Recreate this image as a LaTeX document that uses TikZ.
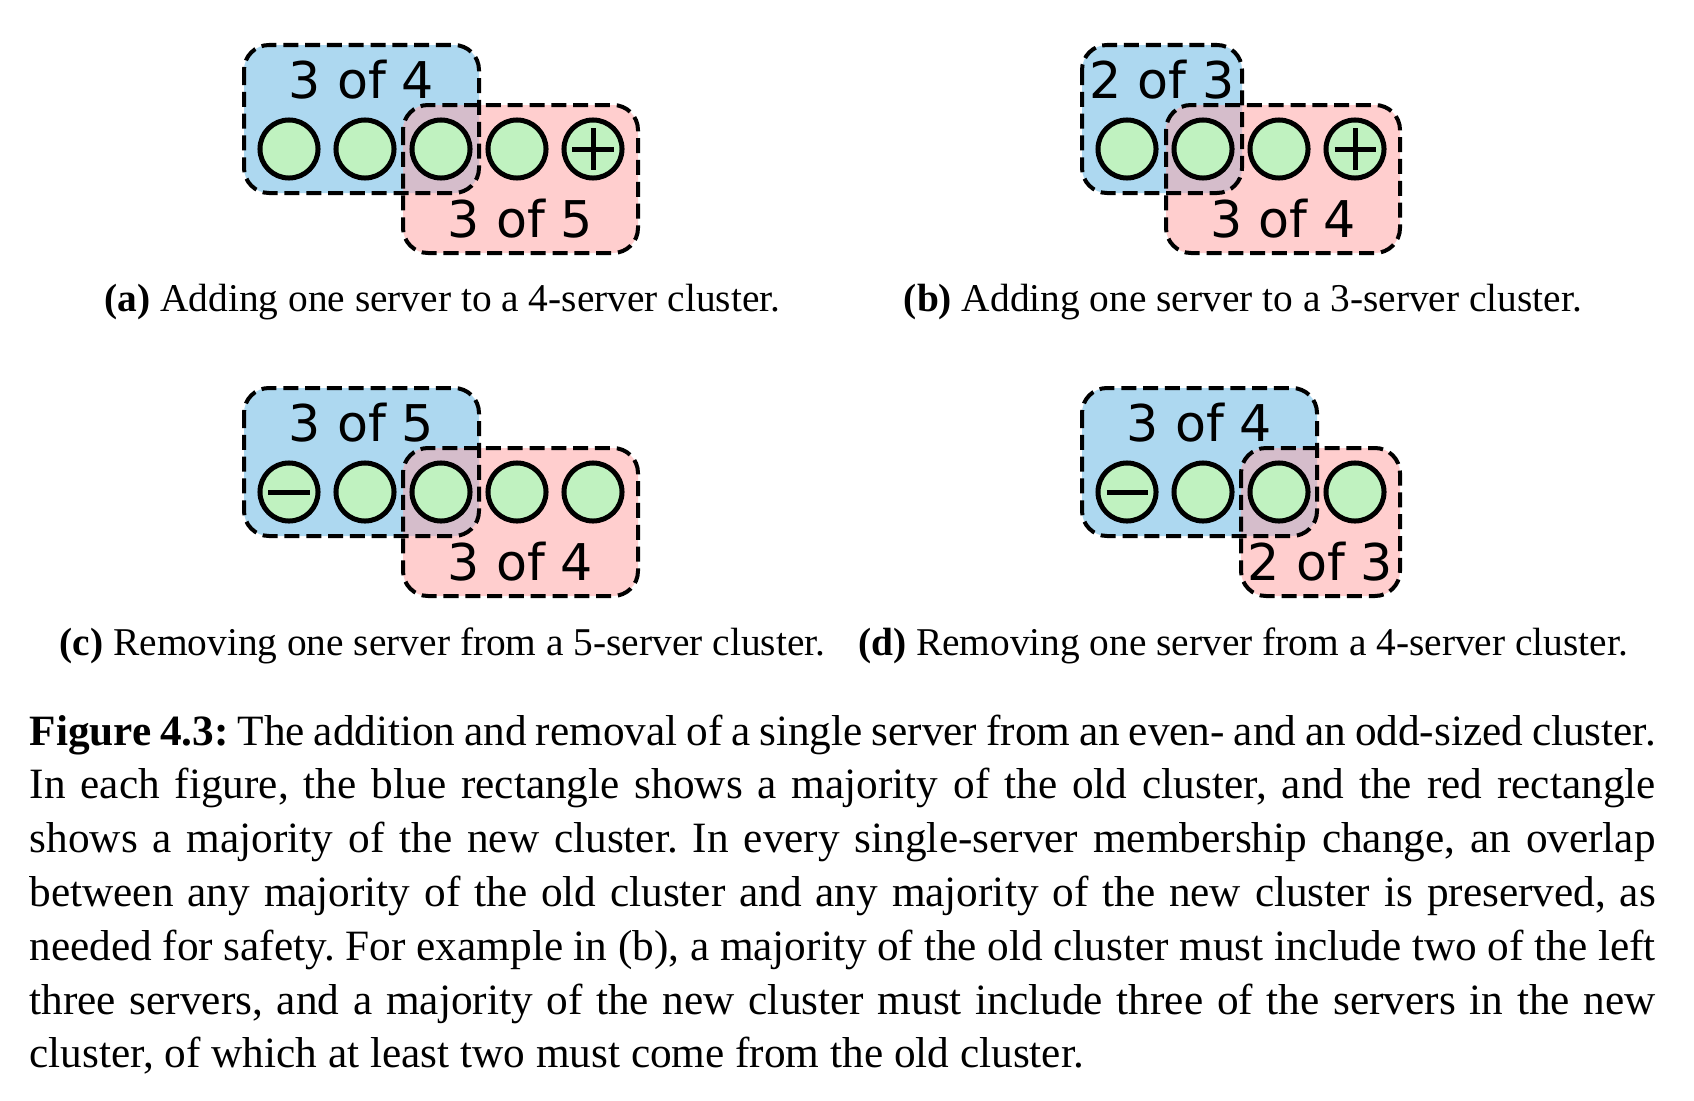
\documentclass[tikz,border=0pt]{standalone}
\usepackage{fontspec}
\setmainfont{Liberation Serif}
\newfontfamily\dejavu{DejaVu Sans}
\frenchspacing
\definecolor{boxblue}{RGB}{173,216,240}
\definecolor{boxred}{RGB}{255,206,206}
\definecolor{boxmix}{RGB}{213,189,203}
\definecolor{srvgreen}{RGB}{192,242,192}
\newcommand\qpair[2]{%
  \fill[boxblue, rounded corners=0.25cm] #1;
  \fill[boxred, rounded corners=0.25cm] #2;
  \begin{scope}
    \clip[rounded corners=0.25cm] #1;
    \fill[boxmix, rounded corners=0.25cm] #2;
  \end{scope}
  \draw[quorum] #1;
  \draw[quorum] #2;}
\newcommand\plussign[1]{%
  \draw[sign] ([xshift=-0.205cm]#1.center) -- ([xshift=0.205cm]#1.center);
  \draw[sign] ([yshift=-0.205cm]#1.center) -- ([yshift=0.205cm]#1.center);}
\newcommand\minussign[1]{%
  \draw[sign] ([xshift=-0.205cm]#1.center) -- ([xshift=0.205cm]#1.center);}
\begin{document}
\begin{tikzpicture}[x=0.01cm,y=-0.01cm,
  srv/.style={circle, draw=black, line width=0.05cm, fill=srvgreen, minimum size=0.58cm, inner sep=0pt},
  quorum/.style={rounded corners=0.25cm, draw=black, line width=0.04cm, dash pattern=on 0.15cm off 0.068cm},
  sign/.style={draw=black, line width=0.05cm},
  qlabel/.style={font=\dejavu\fontsize{14.4}{17}\selectfont, inner sep=0pt, anchor=base},
  sublabel/.style={font=\fontsize{11.2}{13}\selectfont, inner sep=0pt, anchor=base},
  capline/.style={font=\fontsize{12.3}{15}\selectfont, inner sep=0pt, anchor=base west}]
\useasboundingbox (0,0) rectangle (1694,1100);

% ---------- (a)
\qpair{(244,45) rectangle (479,193)}{(403,105) rectangle (638,253)}
\node[srv] (a1) at (289,149) {};
\node[srv] (a2) at (365,149) {};
\node[srv] (a3) at (441,149) {};
\node[srv] (a4) at (517,149) {};
\node[srv] (a5) at (593,149) {};
\plussign{a5}
\node[qlabel] (aold) at (361.5,98) {3 of 4};
\node[qlabel] (anew) at (520.5,237) {3 of 5};

% ---------- (b)
\qpair{(1082,45) rectangle (1242,193)}{(1166,105) rectangle (1400,253)}
\node[srv] (b1) at (1127,149) {};
\node[srv] (b2) at (1203,149) {};
\node[srv] (b3) at (1279,149) {};
\node[srv] (b4) at (1355,149) {};
\plussign{b4}
\node[qlabel] (bold) at (1162,98) {2 of 3};
\node[qlabel] (bnew) at (1283,237) {3 of 4};

% ---------- (c)
\qpair{(244,388) rectangle (479,536)}{(403,448) rectangle (638,596)}
\node[srv] (c1) at (289,492) {};
\node[srv] (c2) at (365,492) {};
\node[srv] (c3) at (441,492) {};
\node[srv] (c4) at (517,492) {};
\node[srv] (c5) at (593,492) {};
\minussign{c1}
\node[qlabel] (cold) at (361.5,441) {3 of 5};
\node[qlabel] (cnew) at (520.5,580) {3 of 4};

% ---------- (d)
\qpair{(1082,388) rectangle (1317,536)}{(1241,448) rectangle (1400,596)}
\node[srv] (d1) at (1127,492) {};
\node[srv] (d2) at (1203,492) {};
\node[srv] (d3) at (1279,492) {};
\node[srv] (d4) at (1355,492) {};
\minussign{d1}
\node[qlabel] (dold) at (1199.5,441) {3 of 4};
\node[qlabel] (dnew) at (1320.5,580) {2 of 3};

% ---------- sub-captions
\node[sublabel] (capa) at (442.5,311) {\textbf{(a)} Adding one server to a 4-server cluster.};
\node[sublabel] (capb) at (1243,311) {\textbf{(b)} Adding one server to a 3-server cluster.};
\node[sublabel] (capc) at (442.5,655) {\textbf{(c)} Removing one server from a 5-server cluster.};
\node[sublabel] (capd) at (1243,655) {\textbf{(d)} Removing one server from a 4-server cluster.};

% ---------- caption
\node[capline] (l1) at (29,745) {\makebox[16.25cm][s]{\textbf{Figure 4.3:} The addition and removal of a single server from an even- and an odd-sized cluster.}};
\node[capline] (l2) at (29,798.8) {\makebox[16.25cm][s]{In each figure, the blue rectangle shows a majority of the old cluster, and the red rectangle}};
\node[capline] (l3) at (29,852.6) {\makebox[16.25cm][s]{shows a majority of the new cluster. In every single-server membership change, an overlap}};
\node[capline] (l4) at (29,906.4) {\makebox[16.25cm][s]{between any majority of the old cluster and any majority of the new cluster is preserved, as}};
\node[capline] (l5) at (29,960.2) {\makebox[16.25cm][s]{needed for safety. For example in (b), a majority of the old cluster must include two of the left}};
\node[capline] (l6) at (29,1014) {\makebox[16.25cm][s]{three servers, and a majority of the new cluster must include three of the servers in the new}};
\node[capline] (l7) at (29,1067.8) {cluster, of which at least two must come from the old cluster.};
\end{tikzpicture}
\end{document}
